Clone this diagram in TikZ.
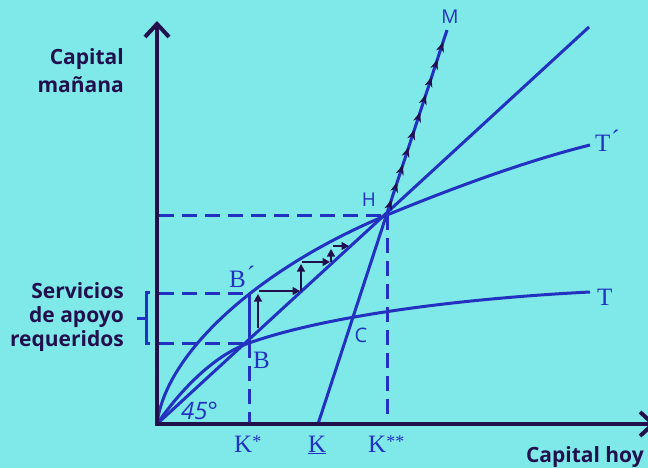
\documentclass[tikz,border=0pt]{standalone}
\usepackage{fontspec}
\setmainfont{Liberation Serif}
\newfontfamily\osans{Open Sans}
\usetikzlibrary{arrows.meta,decorations.markings}
\definecolor{bgc}{HTML}{7FE9E9}
\definecolor{lineblue}{HTML}{2231C0}
\definecolor{darkc}{HTML}{22104C}
\tikzset{
 curve/.style={lineblue, line width=3pt},
 dashline/.style={lineblue, line width=3pt, dash pattern=on 15pt off 8pt},
 axis/.style={darkc, line width=4pt},
 stair/.style={darkc, line width=1.4pt, -{Triangle[length=7.5pt,width=8pt]}},
 axlab/.style={darkc, font=\osans\bfseries\fontsize{21}{25}\selectfont, inner sep=0pt},
 sanslab/.style={lineblue, font=\osans\fontsize{19}{19}\selectfont, inner sep=0pt},
 serlab/.style={lineblue, font=\fontsize{25}{25}\selectfont, inner sep=0pt},
}
\newcommand{\smallstar}[1]{{\fontsize{18}{18}\selectfont\raisebox{5pt}{#1}}}
\begin{document}
\begin{tikzpicture}[x=1pt,y=-1pt]
\useasboundingbox (0,0) rectangle (648,468);
\fill[bgc] (0,0) rectangle (648,468);
% key points
\coordinate (O) at (157,424);
\coordinate (H) at (387,215);
\coordinate (B) at (249,343);
\coordinate (Bp) at (249,293);
\coordinate (Kb) at (318,424);
\coordinate (M) at (447,30);
\coordinate (E45) at (589,27);
\coordinate (Tend) at (590,292);
\coordinate (Tpend) at (590,145);
\coordinate (Ytop) at (157,21);
\coordinate (Xend) at (656,424);
\coordinate (Ks) at (249,424);
\coordinate (Kss) at (387,424);
\coordinate (Yb) at (159,343);
\coordinate (Ybp) at (159,293);
\coordinate (Yh) at (159,215);
% dashed guides
\draw[dashline] (Ybp) -- (Bp);
\draw[dashline] (Yb) -- (B);
\draw[dashline] (Yh) -- (H);
\draw[dashline] (B) -- (Ks);
\draw[dashline] (H) -- (Kss);
% brace
\draw[curve] (150,292) -- (146,292) -- (146,343) -- (150,343);
\draw[curve] (146,318) -- (137,318);
% curves
\draw[curve] (O) .. controls (165,355) and (255,270) .. (H)
  .. controls (460,185) and (530,160) .. (Tpend);
\draw[curve] (O) .. controls (182,388) and (215,355) .. (B)
  .. controls (330,314.4) and (470,298) .. (Tend);
\draw[curve] (O) -- (E45);
\draw[curve, postaction={decorate}, decoration={markings,
  mark=between positions 235.7pt and 402pt step 18.47pt with
  {\arrow[color=darkc]{Stealth[length=10pt,width=8pt,line width=0.4pt]}}}]
  (Kb) -- (M);
\draw[curve] (B) -- (Bp);
% staircase
\coordinate (s1) at (258,328); \coordinate (s2) at (258,294);
\coordinate (s3) at (259,291); \coordinate (s4) at (300,291);
\coordinate (s5) at (301,291); \coordinate (s6) at (301,264);
\coordinate (s7) at (302,262); \coordinate (s8) at (330,262);
\coordinate (s9) at (331,262); \coordinate (s10) at (331,249);
\coordinate (s11) at (333,246); \coordinate (s12) at (349,246);
\draw[stair] (s1) -- (s2);
\draw[stair] (s3) -- (s4);
\draw[stair] (s5) -- (s6);
\draw[stair] (s7) -- (s8);
\draw[stair] (s9) -- (s10);
\draw[stair] (s11) -- (s12);
% axes
\draw[axis, {Straight Barb[length=13pt,width=24pt]}-{Straight Barb[length=13pt,width=24pt]}] (Ytop) -- (O) -- (Xend);
% axis labels
\node[axlab, anchor=base east] (l1) at (124,65) {Capital};
\node[axlab, anchor=base east] (l2) at (124,93) {mañana};
\node[axlab, anchor=base east] (l3) at (124,298) {Servicios};
\node[axlab, anchor=base east] (l4) at (124,322) {de apoyo};
\node[axlab, anchor=base east] (l5) at (124,346) {requeridos};
\node[axlab, anchor=base east] (l6) at (644,462) {Capital hoy};
% point labels
\node[sanslab, anchor=base] (lH) at (369,206.5) {H};
\node[sanslab, anchor=base, font=\osans\fontsize{20}{20}\selectfont] (lC) at (361,342.5) {C};
\node[sanslab, anchor=base] (lM) at (450,23.5) {M};
\node[sanslab, anchor=base west, font=\osans\itshape\fontsize{24}{24}\selectfont] (l45) at (181,419) {45°};
\node[serlab, anchor=base west] (lBp) at (229,287) {B\hspace{1pt}\raisebox{4pt}{´}};
\node[serlab, anchor=base west] (lB) at (253,368) {B};
\node[serlab, anchor=base west] (lTp) at (595,152) {T\hspace{1pt}\raisebox{4pt}{´}};
\node[serlab, anchor=base west] (lT) at (597,305) {T};
\node[serlab, anchor=base west] (lK1) at (234,452) {K\smallstar{*}};
\node[serlab, anchor=base west] (lK2) at (308,452) {\underline{K}};
\node[serlab, anchor=base west] (lK3) at (368,452) {K\smallstar{**}};
\end{tikzpicture}
\end{document}
